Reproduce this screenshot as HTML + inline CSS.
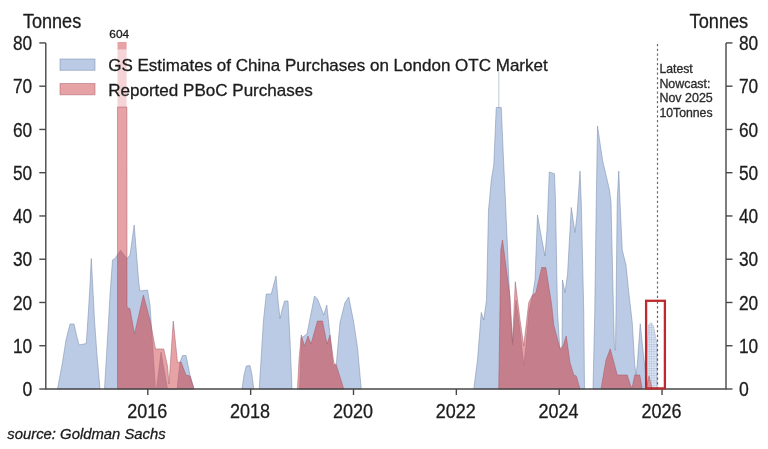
<!DOCTYPE html>
<html lang="en"><head><meta charset="utf-8"><title>China gold purchases</title>
<style>html,body{margin:0;padding:0;background:#fff;}svg{display:block;font-family:"Liberation Sans",Arial,sans-serif;filter:blur(0.4px);}</style></head><body>
<svg width="768" height="449" viewBox="0 0 768 449">
<rect x="0" y="0" width="768" height="449" fill="#ffffff"/>
<defs><pattern id="dots" width="2.4" height="2.4" patternUnits="userSpaceOnUse"><rect width="2.4" height="2.4" fill="rgba(120,155,210,0.28)"/><circle cx="1.2" cy="1.2" r="0.7" fill="rgba(110,140,190,0.55)"/></pattern></defs>
<g fill="rgba(120,152,204,0.50)" stroke="rgba(115,135,165,0.50)" stroke-width="1" stroke-linejoin="round">
<polygon points="57.50,389.00 62.00,365.00 66.00,340.00 70.00,324.00 74.00,324.00 76.50,335.00 79.00,345.00 86.25,343.50 88.50,310.00 90.00,285.00 91.25,258.50 92.70,285.00 94.50,320.00 97.00,355.00 100.00,389.00"/>
<polygon points="104.50,389.00 108.00,330.00 110.00,295.00 112.50,260.00 115.00,258.50 120.50,250.00 127.00,258.50 130.00,255.00 134.20,225.00 138.75,282.50 140.00,291.00 147.50,290.00 150.00,305.00 153.00,350.00 155.50,389.00 156.50,389.00 161.00,352.00 167.50,389.00 177.00,389.00 180.00,362.00 182.50,355.50 186.00,355.50 190.00,375.00 194.00,389.00"/>
<polygon points="242.00,389.00 244.00,375.00 246.25,366.00 250.00,365.50 252.00,375.00 253.75,389.00"/>
<polygon points="259.25,389.00 261.00,360.00 263.50,320.00 266.25,294.00 271.25,294.00 276.00,276.00 278.00,300.00 280.00,318.75 282.00,310.00 284.50,301.00 288.00,301.00 290.00,340.00 292.00,389.00"/>
<polygon points="299.60,389.00 301.30,338.00 307.00,334.00 310.50,316.00 314.50,296.00 317.50,299.00 323.75,315.00 326.75,305.00 330.00,335.00 333.00,365.00 336.25,365.00 340.00,322.50 345.00,302.50 348.75,297.00 353.75,322.50 357.50,347.50 361.25,389.00"/>
<polygon points="473.75,389.00 477.50,360.00 481.25,312.50 483.75,320.00 486.50,300.00 488.50,210.00 489.50,200.00 491.25,180.00 493.75,165.00 496.25,107.50 501.25,107.50 503.75,165.00 505.50,202.00 506.70,230.00 510.00,305.00 512.50,345.00 516.00,300.00 520.00,330.00 523.75,365.00 526.00,345.00 529.00,310.00 532.50,296.00 535.00,280.00 537.50,215.00 541.00,235.00 545.00,256.00 547.00,230.00 549.25,172.00 554.50,173.75 555.50,202.00 557.50,312.00 559.50,344.00 560.00,349.00 562.00,349.00 562.50,280.00 565.00,292.50 567.50,275.00 571.25,207.50 575.00,232.50 577.00,215.00 580.00,171.00 581.25,202.00 583.75,312.00 584.50,389.00"/>
<polygon points="593.00,389.00 594.75,312.00 596.25,202.00 597.50,126.00 602.50,160.00 609.50,190.00 611.00,202.00 613.50,312.00 614.50,350.00 615.50,350.00 616.00,312.00 617.25,200.00 618.75,171.00 620.00,202.00 622.25,250.00 626.00,265.00 628.50,290.00 632.25,322.50 634.75,365.00 636.00,375.00 637.25,365.00 640.25,323.75 643.50,355.00 645.50,372.50 645.80,389.00"/>
</g>
<polygon points="645.80,389.00 645.50,372.50 648.50,325.00 651.00,322.50 653.50,326.00 657.25,345.00 657.25,389.00" fill="url(#dots)" stroke="rgba(115,135,165,0.35)" stroke-width="0.8"/>
<line x1="498.8" y1="72" x2="498.8" y2="108" stroke="rgba(150,165,190,0.6)" stroke-width="1"/>
<g fill="rgba(215,100,105,0.60)" stroke="rgba(165,90,105,0.50)" stroke-width="1" stroke-linejoin="round">
<polygon points="117.50,389.00 117.50,107.00 126.90,107.00 127.00,307.00 130.00,309.00 134.50,334.00 143.40,295.00 150.00,320.00 155.50,349.00 163.75,349.00 167.50,366.00 169.00,384.00 173.25,321.00 177.50,362.50 181.00,362.00 186.00,375.00 190.00,376.00 194.00,389.00"/>
<polygon points="297.50,389.00 299.00,360.00 301.25,335.00 304.50,346.00 308.00,336.00 311.00,344.00 317.50,321.00 322.50,321.00 327.00,344.00 330.00,335.00 333.75,362.50 336.25,365.00 343.75,389.00"/>
<polygon points="498.75,389.00 500.80,250.00 502.50,240.00 510.00,297.00 512.50,342.50 515.30,281.70 520.00,320.00 523.75,346.00 528.75,302.50 532.50,295.00 535.80,293.00 541.70,267.50 545.80,267.50 551.70,305.00 553.75,325.00 560.00,348.75 563.00,346.00 566.25,336.00 570.00,362.50 573.75,375.00 576.25,376.00 580.00,389.00"/>
<polygon points="601.00,389.00 606.00,360.00 610.25,348.75 617.25,375.00 627.25,375.00 631.00,387.00 632.25,387.00 634.75,375.00 639.75,375.00 642.25,389.00"/>
<polygon points="646.00,389.00 649.00,376.00 652.25,389.00"/>
</g>
<clipPath id="bclip">
<polygon points="57.50,389.00 62.00,365.00 66.00,340.00 70.00,324.00 74.00,324.00 76.50,335.00 79.00,345.00 86.25,343.50 88.50,310.00 90.00,285.00 91.25,258.50 92.70,285.00 94.50,320.00 97.00,355.00 100.00,389.00"/>
<polygon points="104.50,389.00 108.00,330.00 110.00,295.00 112.50,260.00 115.00,258.50 120.50,250.00 127.00,258.50 130.00,255.00 134.20,225.00 138.75,282.50 140.00,291.00 147.50,290.00 150.00,305.00 153.00,350.00 155.50,389.00 156.50,389.00 161.00,352.00 167.50,389.00 177.00,389.00 180.00,362.00 182.50,355.50 186.00,355.50 190.00,375.00 194.00,389.00"/>
<polygon points="242.00,389.00 244.00,375.00 246.25,366.00 250.00,365.50 252.00,375.00 253.75,389.00"/>
<polygon points="259.25,389.00 261.00,360.00 263.50,320.00 266.25,294.00 271.25,294.00 276.00,276.00 278.00,300.00 280.00,318.75 282.00,310.00 284.50,301.00 288.00,301.00 290.00,340.00 292.00,389.00"/>
<polygon points="299.60,389.00 301.30,338.00 307.00,334.00 310.50,316.00 314.50,296.00 317.50,299.00 323.75,315.00 326.75,305.00 330.00,335.00 333.00,365.00 336.25,365.00 340.00,322.50 345.00,302.50 348.75,297.00 353.75,322.50 357.50,347.50 361.25,389.00"/>
<polygon points="473.75,389.00 477.50,360.00 481.25,312.50 483.75,320.00 486.50,300.00 488.50,210.00 489.50,200.00 491.25,180.00 493.75,165.00 496.25,107.50 501.25,107.50 503.75,165.00 505.50,202.00 506.70,230.00 510.00,305.00 512.50,345.00 516.00,300.00 520.00,330.00 523.75,365.00 526.00,345.00 529.00,310.00 532.50,296.00 535.00,280.00 537.50,215.00 541.00,235.00 545.00,256.00 547.00,230.00 549.25,172.00 554.50,173.75 555.50,202.00 557.50,312.00 559.50,344.00 560.00,349.00 562.00,349.00 562.50,280.00 565.00,292.50 567.50,275.00 571.25,207.50 575.00,232.50 577.00,215.00 580.00,171.00 581.25,202.00 583.75,312.00 584.50,389.00"/>
<polygon points="593.00,389.00 594.75,312.00 596.25,202.00 597.50,126.00 602.50,160.00 609.50,190.00 611.00,202.00 613.50,312.00 614.50,350.00 615.50,350.00 616.00,312.00 617.25,200.00 618.75,171.00 620.00,202.00 622.25,250.00 626.00,265.00 628.50,290.00 632.25,322.50 634.75,365.00 636.00,375.00 637.25,365.00 640.25,323.75 643.50,355.00 645.50,372.50 645.80,389.00"/>
</clipPath>
<g clip-path="url(#bclip)" fill="rgba(165,60,70,0.17)">
<polygon points="117.50,389.00 117.50,107.00 126.90,107.00 127.00,307.00 130.00,309.00 134.50,334.00 143.40,295.00 150.00,320.00 155.50,349.00 163.75,349.00 167.50,366.00 169.00,384.00 173.25,321.00 177.50,362.50 181.00,362.00 186.00,375.00 190.00,376.00 194.00,389.00"/>
<polygon points="297.50,389.00 299.00,360.00 301.25,335.00 304.50,346.00 308.00,336.00 311.00,344.00 317.50,321.00 322.50,321.00 327.00,344.00 330.00,335.00 333.75,362.50 336.25,365.00 343.75,389.00"/>
<polygon points="498.75,389.00 500.80,250.00 502.50,240.00 510.00,297.00 512.50,342.50 515.30,281.70 520.00,320.00 523.75,346.00 528.75,302.50 532.50,295.00 535.80,293.00 541.70,267.50 545.80,267.50 551.70,305.00 553.75,325.00 560.00,348.75 563.00,346.00 566.25,336.00 570.00,362.50 573.75,375.00 576.25,376.00 580.00,389.00"/>
<polygon points="601.00,389.00 606.00,360.00 610.25,348.75 617.25,375.00 627.25,375.00 631.00,387.00 632.25,387.00 634.75,375.00 639.75,375.00 642.25,389.00"/>
<polygon points="646.00,389.00 649.00,376.00 652.25,389.00"/>
</g>
<rect x="117.5" y="42" width="9.1" height="7.5" fill="rgba(215,100,105,0.60)"/>
<rect x="117.5" y="49.5" width="9.1" height="57.5" fill="rgba(225,120,135,0.32)"/>
<g stroke="#484848" stroke-width="1.4" fill="none" stroke-linecap="butt">
<path d="M45.8 43 V389.0 H726.0 V43"/>
<path d="M39.3 345.74 H45.8"/>
<path d="M726.0 345.74 H732.5"/>
<path d="M39.3 302.48 H45.8"/>
<path d="M726.0 302.48 H732.5"/>
<path d="M39.3 259.22 H45.8"/>
<path d="M726.0 259.22 H732.5"/>
<path d="M39.3 215.96 H45.8"/>
<path d="M726.0 215.96 H732.5"/>
<path d="M39.3 172.70 H45.8"/>
<path d="M726.0 172.70 H732.5"/>
<path d="M39.3 129.44 H45.8"/>
<path d="M726.0 129.44 H732.5"/>
<path d="M39.3 86.18 H45.8"/>
<path d="M726.0 86.18 H732.5"/>
<path d="M39.3 42.92 H45.8"/>
<path d="M726.0 42.92 H732.5"/>
<path d="M39.3 389.00 H45.8"/>
<path d="M726.0 389.00 H732.5"/>
<path d="M147.80 389.0 V395.0"/>
<path d="M250.65 389.0 V395.0"/>
<path d="M353.50 389.0 V395.0"/>
<path d="M456.35 389.0 V395.0"/>
<path d="M559.20 389.0 V395.0"/>
<path d="M662.05 389.0 V395.0"/>
</g>
<line x1="657.5" y1="44" x2="657.5" y2="300.2" stroke="#6a6a6a" stroke-width="1.2" stroke-dasharray="2.2,2.55"/>
<line x1="657.5" y1="301.6" x2="657.5" y2="389" stroke="#8a4a50" stroke-width="1.2" stroke-dasharray="2.2,2.55"/>
<rect x="646.1" y="300.8" width="18.8" height="87.6" fill="none" stroke="#bd2a2e" stroke-width="2.3"/>
<text x="22.4" y="396.2" font-size="20.0" text-anchor="start" fill="#1c1c1c" stroke="#1c1c1c" stroke-width="0.30" textLength="9.8" lengthAdjust="spacingAndGlyphs">0</text>
<text x="739.0" y="396.2" font-size="20.0" text-anchor="start" fill="#1c1c1c" stroke="#1c1c1c" stroke-width="0.30" textLength="9.8" lengthAdjust="spacingAndGlyphs">0</text>
<text x="13.0" y="352.9" font-size="20.0" text-anchor="start" fill="#1c1c1c" stroke="#1c1c1c" stroke-width="0.30" textLength="19.2" lengthAdjust="spacingAndGlyphs">10</text>
<text x="739.0" y="352.9" font-size="20.0" text-anchor="start" fill="#1c1c1c" stroke="#1c1c1c" stroke-width="0.30" textLength="19.2" lengthAdjust="spacingAndGlyphs">10</text>
<text x="13.0" y="309.7" font-size="20.0" text-anchor="start" fill="#1c1c1c" stroke="#1c1c1c" stroke-width="0.30" textLength="19.2" lengthAdjust="spacingAndGlyphs">20</text>
<text x="739.0" y="309.7" font-size="20.0" text-anchor="start" fill="#1c1c1c" stroke="#1c1c1c" stroke-width="0.30" textLength="19.2" lengthAdjust="spacingAndGlyphs">20</text>
<text x="13.0" y="266.4" font-size="20.0" text-anchor="start" fill="#1c1c1c" stroke="#1c1c1c" stroke-width="0.30" textLength="19.2" lengthAdjust="spacingAndGlyphs">30</text>
<text x="739.0" y="266.4" font-size="20.0" text-anchor="start" fill="#1c1c1c" stroke="#1c1c1c" stroke-width="0.30" textLength="19.2" lengthAdjust="spacingAndGlyphs">30</text>
<text x="13.0" y="223.2" font-size="20.0" text-anchor="start" fill="#1c1c1c" stroke="#1c1c1c" stroke-width="0.30" textLength="19.2" lengthAdjust="spacingAndGlyphs">40</text>
<text x="739.0" y="223.2" font-size="20.0" text-anchor="start" fill="#1c1c1c" stroke="#1c1c1c" stroke-width="0.30" textLength="19.2" lengthAdjust="spacingAndGlyphs">40</text>
<text x="13.0" y="179.9" font-size="20.0" text-anchor="start" fill="#1c1c1c" stroke="#1c1c1c" stroke-width="0.30" textLength="19.2" lengthAdjust="spacingAndGlyphs">50</text>
<text x="739.0" y="179.9" font-size="20.0" text-anchor="start" fill="#1c1c1c" stroke="#1c1c1c" stroke-width="0.30" textLength="19.2" lengthAdjust="spacingAndGlyphs">50</text>
<text x="13.0" y="136.6" font-size="20.0" text-anchor="start" fill="#1c1c1c" stroke="#1c1c1c" stroke-width="0.30" textLength="19.2" lengthAdjust="spacingAndGlyphs">60</text>
<text x="739.0" y="136.6" font-size="20.0" text-anchor="start" fill="#1c1c1c" stroke="#1c1c1c" stroke-width="0.30" textLength="19.2" lengthAdjust="spacingAndGlyphs">60</text>
<text x="13.0" y="93.4" font-size="20.0" text-anchor="start" fill="#1c1c1c" stroke="#1c1c1c" stroke-width="0.30" textLength="19.2" lengthAdjust="spacingAndGlyphs">70</text>
<text x="739.0" y="93.4" font-size="20.0" text-anchor="start" fill="#1c1c1c" stroke="#1c1c1c" stroke-width="0.30" textLength="19.2" lengthAdjust="spacingAndGlyphs">70</text>
<text x="13.0" y="50.1" font-size="20.0" text-anchor="start" fill="#1c1c1c" stroke="#1c1c1c" stroke-width="0.30" textLength="19.2" lengthAdjust="spacingAndGlyphs">80</text>
<text x="739.0" y="50.1" font-size="20.0" text-anchor="start" fill="#1c1c1c" stroke="#1c1c1c" stroke-width="0.30" textLength="19.2" lengthAdjust="spacingAndGlyphs">80</text>
<text x="22.9" y="28.0" font-size="20.0" text-anchor="start" fill="#1c1c1c" stroke="#1c1c1c" stroke-width="0.30" textLength="58.3" lengthAdjust="spacingAndGlyphs">Tonnes</text>
<text x="689.6" y="28.4" font-size="20.0" text-anchor="start" fill="#1c1c1c" stroke="#1c1c1c" stroke-width="0.30" textLength="58.6" lengthAdjust="spacingAndGlyphs">Tonnes</text>
<text x="127.2" y="418.0" font-size="20.0" text-anchor="start" fill="#1c1c1c" stroke="#1c1c1c" stroke-width="0.30" textLength="40.0" lengthAdjust="spacingAndGlyphs">2016</text>
<text x="230.1" y="418.0" font-size="20.0" text-anchor="start" fill="#1c1c1c" stroke="#1c1c1c" stroke-width="0.30" textLength="40.0" lengthAdjust="spacingAndGlyphs">2018</text>
<text x="332.9" y="418.0" font-size="20.0" text-anchor="start" fill="#1c1c1c" stroke="#1c1c1c" stroke-width="0.30" textLength="40.0" lengthAdjust="spacingAndGlyphs">2020</text>
<text x="435.7" y="418.0" font-size="20.0" text-anchor="start" fill="#1c1c1c" stroke="#1c1c1c" stroke-width="0.30" textLength="40.0" lengthAdjust="spacingAndGlyphs">2022</text>
<text x="538.6" y="418.0" font-size="20.0" text-anchor="start" fill="#1c1c1c" stroke="#1c1c1c" stroke-width="0.30" textLength="40.0" lengthAdjust="spacingAndGlyphs">2024</text>
<text x="641.4" y="418.0" font-size="20.0" text-anchor="start" fill="#1c1c1c" stroke="#1c1c1c" stroke-width="0.30" textLength="40.0" lengthAdjust="spacingAndGlyphs">2026</text>
<rect x="60" y="59" width="35" height="11.3" fill="rgba(120,152,204,0.50)" stroke="rgba(115,135,165,0.50)" stroke-width="1"/>
<rect x="60" y="83.5" width="35" height="11.3" fill="rgba(215,100,105,0.60)" stroke="rgba(165,90,105,0.50)" stroke-width="1"/>
<text x="108.2" y="70.9" font-size="16.4" text-anchor="start" fill="#1c1c1c" stroke="#1c1c1c" stroke-width="0.30" textLength="439.5" lengthAdjust="spacingAndGlyphs">GS Estimates of China Purchases on London OTC Market</text>
<text x="108.2" y="96.2" font-size="16.4" text-anchor="start" fill="#1c1c1c" stroke="#1c1c1c" stroke-width="0.30" textLength="204.6" lengthAdjust="spacingAndGlyphs">Reported PBoC Purchases</text>
<text x="109.3" y="37.6" font-size="11.5" text-anchor="start" fill="#1c1c1c" stroke="#1c1c1c" stroke-width="0.30" textLength="19.8" lengthAdjust="spacingAndGlyphs">604</text>
<text x="659.4" y="73.0" font-size="12.4" text-anchor="start" fill="#2a2a2a" stroke="#2a2a2a" stroke-width="0.30" textLength="33.4" lengthAdjust="spacingAndGlyphs">Latest</text>
<text x="659.4" y="88.3" font-size="12.4" text-anchor="start" fill="#2a2a2a" stroke="#2a2a2a" stroke-width="0.30" textLength="51.0" lengthAdjust="spacingAndGlyphs">Nowcast:</text>
<text x="659.4" y="101.8" font-size="12.4" text-anchor="start" fill="#2a2a2a" stroke="#2a2a2a" stroke-width="0.30" textLength="53.4" lengthAdjust="spacingAndGlyphs">Nov 2025</text>
<text x="659.4" y="117.0" font-size="12.4" text-anchor="start" fill="#2a2a2a" stroke="#2a2a2a" stroke-width="0.30" textLength="53.2" lengthAdjust="spacingAndGlyphs">10Tonnes</text>
<text x="7.3" y="439.3" font-size="15.0" text-anchor="start" fill="#1c1c1c" stroke="#1c1c1c" stroke-width="0.30" textLength="158.4" lengthAdjust="spacingAndGlyphs" font-style="italic">source: Goldman Sachs</text>
</svg></body></html>
